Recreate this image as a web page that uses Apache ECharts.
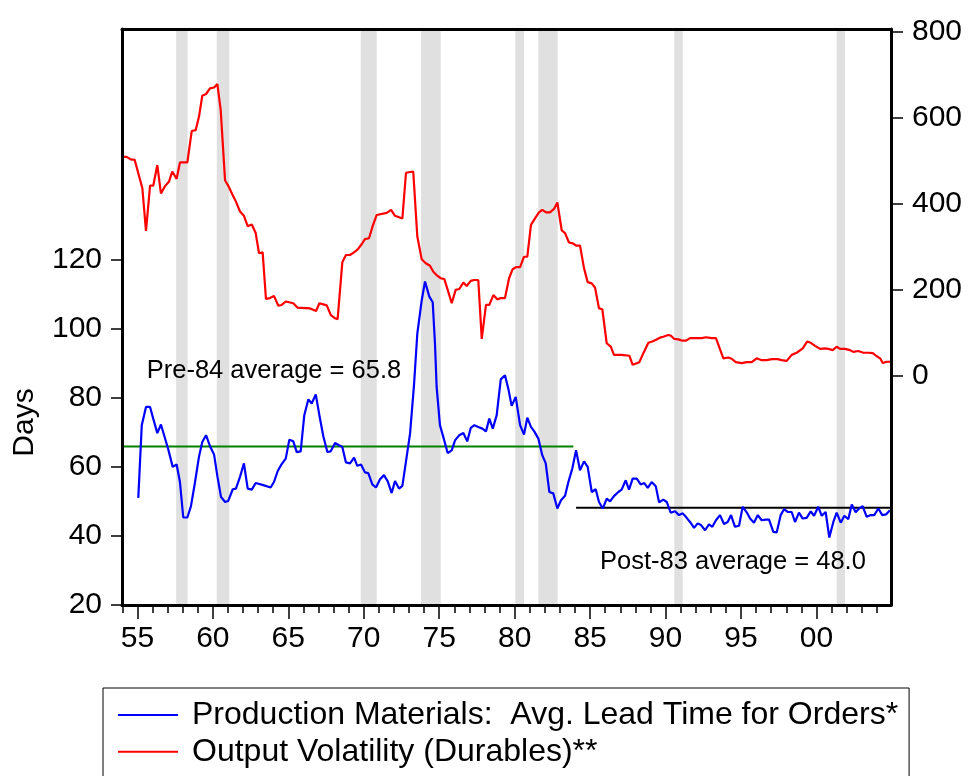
<!DOCTYPE html>
<html>
<head>
<meta charset="utf-8">
<script src="https://cdn.jsdelivr.net/npm/echarts@6/dist/echarts.min.js"></script>
<style>
html,body{margin:0;padding:0;background:#fff;}
#chart{width:969px;height:776px;}
</style>
</head>
<body>
<div id="chart"></div>
<script>
// ---- Data ----
const blueName = 'Production Materials:  Avg. Lead Time for Orders*';
const redName = 'Output Volatility (Durables)**';

const blueYears = [1955.06,1955.29,1955.57,1955.84,1956.05,1956.32,1956.56,1956.79,1957.05,1957.34,1957.60,1957.82,1958.04,1958.31,1958.55,1958.82,1959.08,1959.30,1959.55,1959.81,1960.08,1960.30,1960.54,1960.81,1961.02,1961.32,1961.53,1961.80,1962.06,1962.31,1962.58,1962.84,1963.34,1963.83,1964.05,1964.30,1964.56,1964.83,1965.07,1965.33,1965.56,1965.82,1966.06,1966.33,1966.55,1966.82,1967.06,1967.32,1967.59,1967.81,1968.10,1968.36,1968.58,1968.82,1969.09,1969.36,1969.57,1969.82,1970.08,1970.30,1970.57,1970.81,1971.08,1971.34,1971.59,1971.85,1972.07,1972.34,1972.56,1972.80,1973.07,1973.33,1973.55,1973.84,1974.06,1974.34,1974.57,1974.72,1974.83,1975.05,1975.27,1975.56,1975.83,1976.05,1976.33,1976.60,1976.86,1977.09,1977.33,1977.59,1977.86,1978.10,1978.32,1978.55,1978.81,1979.08,1979.36,1979.58,1979.80,1980.07,1980.36,1980.62,1980.84,1981.08,1981.30,1981.57,1981.83,1982.06,1982.30,1982.56,1982.83,1983.07,1983.34,1983.56,1983.82,1984.07,1984.33,1984.60,1984.84,1985.11,1985.37,1985.59,1985.84,1986.10,1986.32,1986.58,1986.87,1987.09,1987.36,1987.58,1987.82,1988.09,1988.35,1988.59,1988.82,1989.08,1989.35,1989.57,1989.85,1990.08,1990.34,1990.63,1990.89,1991.14,1991.40,1991.62,1991.89,1992.13,1992.35,1992.62,1992.88,1993.10,1993.34,1993.61,1993.87,1994.12,1994.34,1994.60,1994.87,1995.11,1995.38,1995.60,1995.86,1996.11,1996.37,1996.64,1996.86,1997.14,1997.37,1997.63,1997.85,1998.09,1998.36,1998.58,1998.84,1999.09,1999.35,1999.62,1999.84,2000.12,2000.35,2000.61,2000.85,2001.12,2001.34,2001.61,2001.85,2002.11,2002.34,2002.60,2002.82,2003.06,2003.33,2003.60,2003.83,2004.10,2004.36,2004.61,2004.87];
const blueVals = [50.9,72.0,77.3,77.3,73.9,69.7,72.2,68.8,64.9,59.9,60.6,55.5,45.2,45.2,48.5,55.5,62.8,67.1,69.1,65.9,63.5,57.2,51.2,49.7,50.0,53.4,53.6,57.0,60.9,53.6,53.3,55.2,54.6,53.9,55.5,58.7,60.7,62.3,67.8,67.3,64.2,64.4,74.9,79.5,78.3,80.9,74.9,68.8,64.2,64.4,66.8,66.2,65.7,61.2,60.9,62.6,60.2,60.6,58.3,58.1,54.8,53.9,56.3,57.5,55.7,52.3,55.8,53.6,54.4,61.5,69.6,83.6,98.6,108.2,113.7,109.4,107.7,95.7,83.1,72.0,68.6,63.9,64.7,67.6,69.1,69.7,67.3,71.2,72.0,71.5,71.0,70.2,73.9,71.0,74.9,85.3,86.5,82.6,77.6,80.2,72.0,69.3,74.2,71.5,70.2,68.1,63.3,60.9,52.6,52.2,47.8,50.2,51.5,55.5,59.4,64.7,58.9,61.5,59.9,52.6,53.4,49.7,47.8,50.7,49.9,51.4,52.6,53.3,56.0,53.3,56.5,56.5,54.8,55.2,53.8,55.5,54.3,49.6,50.4,49.7,46.6,47.0,45.9,46.4,45.1,43.9,42.2,43.5,43.0,41.5,43.2,42.5,44.4,45.9,43.3,43.9,45.9,42.5,42.8,48.3,46.7,44.9,43.7,45.9,44.4,44.6,44.6,41.0,40.9,45.9,47.6,46.8,46.8,43.9,46.6,44.9,45.1,47.0,45.7,48.3,45.7,46.8,39.4,43.9,46.6,43.7,45.7,44.7,49.0,46.7,47.8,48.5,45.4,45.9,45.9,47.8,45.9,46.1,47.3];

const redYears = [1954.03,1954.29,1954.56,1954.82,1955.06,1955.33,1955.57,1955.84,1956.05,1956.32,1956.56,1956.83,1957.09,1957.31,1957.60,1957.82,1958.31,1958.60,1958.86,1959.08,1959.30,1959.55,1959.81,1960.08,1960.30,1960.52,1960.81,1961.02,1961.32,1961.53,1961.80,1962.06,1962.31,1962.58,1962.84,1963.06,1963.30,1963.52,1963.79,1964.05,1964.34,1964.56,1964.83,1965.33,1965.60,1966.44,1966.84,1967.06,1967.55,1967.81,1968.10,1968.27,1968.58,1968.82,1969.09,1969.35,1969.60,1969.86,1970.08,1970.35,1970.59,1970.86,1971.52,1971.81,1972.07,1972.56,1972.80,1973.28,1973.55,1973.84,1974.11,1974.39,1974.61,1974.87,1975.10,1975.34,1975.60,1975.83,1976.09,1976.33,1976.60,1976.82,1977.09,1977.31,1977.59,1977.82,1978.10,1978.32,1978.59,1978.85,1979.10,1979.36,1979.63,1979.87,1980.09,1980.36,1980.62,1980.84,1981.08,1981.35,1981.61,1981.83,1982.08,1982.34,1982.61,1982.83,1983.12,1983.34,1983.60,1983.85,1984.07,1984.33,1984.60,1984.84,1985.11,1985.33,1985.59,1985.81,1986.10,1986.37,1986.58,1987.09,1987.60,1987.82,1988.26,1988.53,1988.86,1989.12,1989.37,1989.63,1989.85,1990.18,1990.34,1990.58,1990.85,1991.11,1991.36,1991.62,1991.95,1992.40,1992.68,1993.06,1993.34,1993.83,1994.16,1994.38,1994.65,1995.05,1995.38,1995.71,1996.04,1996.33,1996.70,1997.04,1997.43,1997.70,1998.03,1998.36,1998.69,1999.09,1999.38,1999.62,1999.91,2000.24,2000.57,2000.79,2001.08,2001.34,2001.56,2001.89,2002.22,2002.44,2002.77,2003.11,2003.44,2003.73,2003.95,2004.22,2004.39,2004.66,2004.88];
const redVals = [509,509,503,502,471,436,337,442,442,490,424,441,451,475,458,496,496,569,571,602,651,655,668,670,678,618,454,442,420,405,382,372,348,352,332,285,287,179,181,186,163,165,173,169,159,157,151,169,164,142,134,132,264,281,281,287,294,306,318,320,348,374,379,386,372,366,472,475,324,271,262,256,242,233,227,225,196,169,200,202,217,209,221,223,223,86,165,165,188,178,181,181,227,248,253,253,277,277,351,366,380,386,380,380,388,403,338,332,310,308,303,303,250,218,215,205,157,155,76,68,49,49,47,26,32,53,77,80,84,89,91,95,94,86,85,82,82,88,88,88,90,88,88,41,43,40,32,30,32,32,41,37,37,39,39,37,35,49,54,64,80,77,70,63,64,63,60,68,63,63,60,56,58,54,54,53,47,41,30,33,33];

// Recession periods (start, end) in years
const recessionStart = [1957.57,1960.26,1969.80,1973.80,1980.04,1981.57,1990.58,2001.34];
const recessionEnd   = [1958.33,1961.09,1970.86,1975.10,1980.62,1982.85,1991.14,2001.89];

// Sub-period averages
const preAvg = 65.8, postAvg = 48.0;
const preSpan = [1954.0, 1983.89];
const postSpan = [1984.07, 2004.94];

// Tick labels
const xMajorTicks = [1955,1960,1965,1970,1975,1980,1985,1990,1995,2000];
const xMinorTicks = [1954,1955,1956,1957,1958,1959,1960,1961,1962,1963,1964,1965,1966,1967,1968,1969,1970,1971,1972,1973,1974,1975,1976,1977,1978,1979,1980,1981,1982,1983,1984,1985,1986,1987,1988,1989,1990,1991,1992,1993,1994,1995,1996,1997,1998,1999,2000,2001,2002,2003,2004];
const leftTicks = [20,40,60,80,100,120];
const rightTicks = [0,200,400,600,800];

// ---- Chart ----
const FONT = "'Liberation Sans', Arial, sans-serif";
const zip = (a, b) => a.map((v, i) => [v, b[i]]);

const chart = echarts.init(document.getElementById('chart'), null, {renderer: 'canvas'});

const xMin = 1953.98, xMax = 2004.94;

const option = {
  animation: false,
  backgroundColor: '#fff',
  textStyle: {fontFamily: FONT, color: '#000'},
  grid: {left: 122, top: 29, width: 769, height: 576, show: false},
  xAxis: [
    {
      type: 'value', min: xMin, max: xMax, position: 'bottom', z: 10,
      axisLine: {show: true, onZero: false, lineStyle: {color: '#000', width: 3}},
      axisTick: {show: true, customValues: xMajorTicks, length: 14, lineStyle: {color: '#000', width: 1.5}},
      axisLabel: {show: true, customValues: xMajorTicks, margin: 19, fontSize: 30, color: '#000', fontFamily: FONT,
        formatter: v => String(Math.round(v) % 100).padStart(2, '0')},
      splitLine: {show: false}
    },
    {
      type: 'value', min: xMin, max: xMax, position: 'bottom', z: 10,
      axisLine: {show: false, onZero: false},
      axisTick: {show: true, customValues: xMinorTicks, length: 8, lineStyle: {color: '#000', width: 1.5}},
      axisLabel: {show: false},
      splitLine: {show: false}
    },
    {
      type: 'value', min: xMin, max: xMax, position: 'top', z: 10,
      axisLine: {show: true, onZero: false, lineStyle: {color: '#000', width: 3}},
      axisTick: {show: false}, axisLabel: {show: false}, splitLine: {show: false}
    }
  ],
  yAxis: [
    {
      type: 'value', min: 19.8, max: 187, position: 'left', z: 10,
      axisLine: {show: true, onZero: false, lineStyle: {color: '#000', width: 3}},
      axisTick: {show: true, customValues: leftTicks, length: 11, lineStyle: {color: '#000', width: 1.5}},
      axisLabel: {show: true, customValues: leftTicks, margin: 20, fontSize: 30, color: '#000', fontFamily: FONT},
      splitLine: {show: false}
    },
    {
      type: 'value', min: -532, max: 806, position: 'right', z: 10,
      axisLine: {show: true, onZero: false, lineStyle: {color: '#000', width: 3}},
      axisTick: {show: true, customValues: rightTicks, length: 12, lineStyle: {color: '#000', width: 1.5}},
      axisLabel: {show: true, customValues: rightTicks, margin: 21, fontSize: 30, color: '#000', fontFamily: FONT},
      splitLine: {show: false}
    }
  ],
  legend: {
    show: true,
    data: [blueName, redName],
    orient: 'vertical',
    left: 103, top: 688,
    height: 74,
    padding: [11, 11, 40, 15],
    itemWidth: 60, itemHeight: 2, itemGap: 4.7,
    icon: 'rect',
    borderColor: '#000', borderWidth: 1,
    backgroundColor: '#fff',
    selectedMode: false,
    textStyle: {fontSize: 32, color: '#000', fontFamily: FONT, lineHeight: 32, padding: [0, 0, 0, 9]}
  },
  graphic: [
    {
      type: 'text',
      rotation: Math.PI / 2,
      x: 24.5, y: 422.5,
      style: {text: 'Days', font: '30px ' + FONT, fill: '#000', textAlign: 'center', textVerticalAlign: 'middle'}
    }
  ],
  series: [
    {
      name: 'recessions', type: 'line', data: [], xAxisIndex: 0, yAxisIndex: 0, z: 1, silent: true,
      markArea: {
        silent: true,
        itemStyle: {color: '#e0e0e0', opacity: 1},
        data: recessionStart.map((s, i) => [{xAxis: s}, {xAxis: recessionEnd[i]}])
      }
    },
    {
      name: 'preAvg', type: 'line', xAxisIndex: 0, yAxisIndex: 0, z: 3, silent: true,
      showSymbol: false, symbol: 'none',
      data: [[preSpan[0], preAvg], [preSpan[1], preAvg]],
      lineStyle: {color: '#008000', width: 2},
      markPoint: {
        symbol: 'circle', symbolSize: 0, silent: true,
        data: [{coord: [1955.62, 87.6], label: {show: true, position: 'right', distance: 0,
          formatter: 'Pre-84 average = ' + preAvg.toFixed(1), fontSize: 25.5, color: '#000', fontFamily: FONT}}]
      }
    },
    {
      name: 'postAvg', type: 'line', xAxisIndex: 0, yAxisIndex: 0, z: 3, silent: true,
      showSymbol: false, symbol: 'none',
      data: [[postSpan[0], postAvg], [postSpan[1], postAvg]],
      lineStyle: {color: '#000', width: 2},
      markPoint: {
        symbol: 'circle', symbolSize: 0, silent: true,
        data: [{coord: [1985.66, 32.4], label: {show: true, position: 'right', distance: 0,
          formatter: 'Post-83 average = ' + postAvg.toFixed(1), fontSize: 25.5, color: '#000', fontFamily: FONT}}]
      }
    },
    {
      name: redName, type: 'line', xAxisIndex: 0, yAxisIndex: 1, z: 4,
      showSymbol: false, symbol: 'none',
      data: zip(redYears, redVals),
      lineStyle: {color: '#ff0000', width: 2.2},
      itemStyle: {color: '#ff0000'},
      emphasis: {disabled: true}
    },
    {
      name: blueName, type: 'line', xAxisIndex: 0, yAxisIndex: 0, z: 5,
      showSymbol: false, symbol: 'none',
      data: zip(blueYears, blueVals),
      lineStyle: {color: '#0000ff', width: 2.2},
      itemStyle: {color: '#0000ff'},
      emphasis: {disabled: true}
    }
  ]
};
chart.setOption(option);
</script>
</body>
</html>
